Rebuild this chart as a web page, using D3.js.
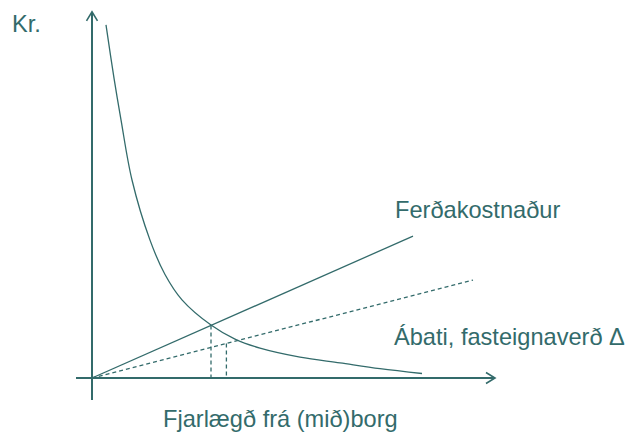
<!DOCTYPE html>
<html>
<head>
<meta charset="utf-8">
<script src="https://cdn.jsdelivr.net/npm/d3@7"></script>
<style>
  html, body { margin: 0; padding: 0; background: #fff; }
  svg { display: block; }
  text { font-family: "Liberation Sans", Arial, sans-serif; fill: #336b6b; }
</style>
</head>
<body>
<script>
// ---- data (abstract units, 0..100 on each axis) ----
const curveX = [3.5, 5.5, 7.25, 10, 14.5, 18.25, 22.5, 29.75, 35.75, 42, 52, 62, 72, 82.5];
const curveY = [98.1, 83.3, 71.7, 55, 38.3, 28.75, 21.7, 14.7, 10.8, 8.3, 5.8, 4.2, 2.6, 1.25];
const costX = [0, 80.25];
const costY = [0, 39.4];
const gainX = [0, 95.25];
const gainY = [0, 27.2];
const dropX = [29.75, 33.6];
const dropY = [14.6, 9.6];
const axisXExtent = [-4, 100.75];
const axisYExtent = [-6.1, 101.7];
const labels = ["Kr.", "Ferðakostnaður", "Ábati, fasteignaverð Δ", "Fjarlægð frá (mið)borg"];

const W = 630, H = 434;
const color = "#336b6b";

const svg = d3.select("body").append("svg").attr("width", W).attr("height", H);

const x = d3.scaleLinear().domain([0, 100]).range([92, 492]);
const y = d3.scaleLinear().domain([0, 100]).range([378, 18]);

const g = svg.append("g");

// axes
g.append("line")
  .attr("x1", x(axisXExtent[0])).attr("x2", x(axisXExtent[1]))
  .attr("y1", y(0)).attr("y2", y(0))
  .attr("stroke", color).attr("stroke-width", 2);
g.append("line")
  .attr("x1", x(0)).attr("x2", x(0))
  .attr("y1", y(axisYExtent[0])).attr("y2", y(axisYExtent[1]))
  .attr("stroke", color).attr("stroke-width", 2);

// arrow heads
const tx = x(axisXExtent[1]), ty = y(0);
g.append("path")
  .attr("d", `M${tx - 9},${ty - 5.5}L${tx},${ty}L${tx - 9},${ty + 5.5}`)
  .attr("fill", "none").attr("stroke", color).attr("stroke-width", 1.6);
const ux = x(0), uy = y(axisYExtent[1]);
g.append("path")
  .attr("d", `M${ux - 5.5},${uy + 9}L${ux},${uy}L${ux + 5.5},${uy + 9}`)
  .attr("fill", "none").attr("stroke", color).attr("stroke-width", 1.6);

const line = d3.line().x(d => x(d[0])).y(d => y(d[1]));

// travel cost line
g.append("path")
  .attr("d", line(costX.map((v, i) => [v, costY[i]])))
  .attr("fill", "none").attr("stroke", color).attr("stroke-width", 1.3);

// gain dashed line
g.append("path")
  .attr("d", line(gainX.map((v, i) => [v, gainY[i]])))
  .attr("fill", "none").attr("stroke", color).attr("stroke-width", 1.3)
  .attr("stroke-dasharray", "4,3");

// curve
g.append("path")
  .attr("d", d3.line().x(d => x(d[0])).y(d => y(d[1])).curve(d3.curveCatmullRom.alpha(0.5))
    (curveX.map((v, i) => [v, curveY[i]])))
  .attr("fill", "none").attr("stroke", color).attr("stroke-width", 1.3);

// vertical drop lines
dropX.forEach((v, i) => {
  g.append("line")
    .attr("x1", x(v)).attr("x2", x(v))
    .attr("y1", y(dropY[i])).attr("y2", y(0))
    .attr("stroke", color).attr("stroke-width", 1.3)
    .attr("stroke-dasharray", "4,3");
});

// labels
const fs = 23.6;
svg.append("text").attr("x", 12).attr("y", 32).attr("font-size", fs).text(labels[0]);
svg.append("text").attr("x", 395).attr("y", 218).attr("font-size", fs).text(labels[1]);
svg.append("text").attr("x", 394).attr("y", 345).attr("font-size", fs).text(labels[2]);
svg.append("text").attr("x", 163).attr("y", 427).attr("font-size", fs).text(labels[3]);
</script>
</body>
</html>
